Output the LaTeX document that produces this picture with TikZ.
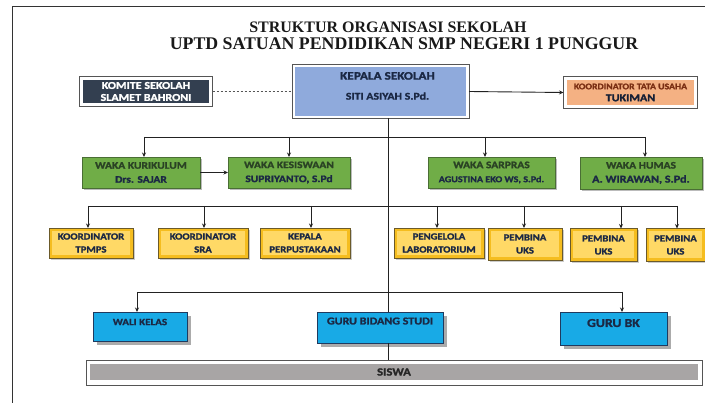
\documentclass[tikz,border=0pt]{standalone}
\usepackage{fontspec}
\setmainfont{Liberation Serif}
\newfontfamily\bx[FakeStretch=1.15,FakeBold=1.6]{Carlito Bold}
\usetikzlibrary{arrows.meta,shadows}
\definecolor{kepc}{HTML}{8FAADC}
\definecolor{komc}{HTML}{333F50}
\definecolor{tuc}{HTML}{F4B183}
\definecolor{grc}{HTML}{70AD47}
\definecolor{grdark}{HTML}{4A6E35}
\definecolor{yout}{HTML}{F5BD1F}
\definecolor{yin}{HTML}{FFD966}
\definecolor{ydark}{HTML}{6B5A2A}
\definecolor{bluec}{HTML}{18AAE6}
\definecolor{bluedark}{HTML}{1F3A5F}
\definecolor{siswac}{HTML}{A8A5A5}
\definecolor{shadc}{HTML}{ABABAB}
\definecolor{navy}{HTML}{1B2844}
\definecolor{grtext}{HTML}{2A4224}
\definecolor{brown}{HTML}{7A2E12}
\definecolor{linec}{HTML}{222222}
\definecolor{framec}{HTML}{555555}
\newcommand\fs[2]{\fontsize{#1}{#2}\selectfont}
\begin{document}
\begin{tikzpicture}[x=1pt,y=-1pt,
  conn/.style={draw=linec,line width=0.9pt},
  arr/.style={conn,-{Stealth[length=4.5pt,width=4pt]}},
  dashconn/.style={draw=framec,line width=0.8pt,dash pattern=on 2pt off 2pt},
  box/.style={inner sep=0pt,outer sep=0pt,align=center,text=navy},
  frame/.style={draw=framec,line width=0.8pt},
  title/.style={inner sep=0pt,text=black!90,font=\bfseries\fs{16}{18}},
  kepbox/.style={box,fill=kepc,font=\bx},
  kombox/.style={box,fill=komc,text=white,font=\bx\fs{10.5}{12}},
  tubox/.style={box,fill=tuc,font=\bx},
  grbox/.style={box,fill=grc,draw=grdark,line width=0.8pt,
    drop shadow={shadow xshift=2pt,shadow yshift=-2pt,fill=shadc,opacity=0.8},
    font=\bx\fs{10}{14}},
  ylbox/.style={box,fill=yout,draw=ydark,line width=0.7pt,
    drop shadow={shadow xshift=2pt,shadow yshift=-2pt,fill=shadc,opacity=0.6},
    path picture={\fill[yin] ([shift={(3pt,3pt)}]path picture bounding box.south west)
      rectangle ([shift={(-3pt,-3pt)}]path picture bounding box.north east);},
    font=\bx\fs{9.3}{13}},
  blbox/.style={box,fill=bluec,draw=bluedark,line width=0.8pt,
    drop shadow={shadow xshift=4pt,shadow yshift=-4pt,fill=shadc,opacity=1},
    font=\bx\fs{10.5}{12}},
  sisbox/.style={box,fill=siswac,text=black!85,font=\bx\fs{11}{12}}
]
\useasboundingbox (0,0) rectangle (705,403);
\fill[white] (0,0) rectangle (705,403);
% page frame
\draw[draw=black!80,line width=1pt] (12,403) -- (12,7) -- (705,7);

% titles
\node[title] (t1) at (388,27) {STRUKTUR ORGANISASI SEKOLAH};
\node[title,font=\bfseries\fs{17.8}{19}] (t2) at (404,44) {UPTD SATUAN PENDIDIKAN SMP NEGERI 1 PUNGGUR};

% top row
\node[kepbox,minimum width=171,minimum height=49] (kepala) at (380.5,91.5)
  {\raisebox{22pt}{\hspace*{14pt}\begin{tabular}{@{}c@{}}{\fs{11.5}{13}KEPALA SEKOLAH}\\[8pt]{\fs{10.3}{12}SITI ASIYAH S.Pd.}\end{tabular}}};
\draw[frame] ([shift={(-3pt,3pt)}]kepala.north west) rectangle ([shift={(3pt,-2.5pt)}]kepala.south east);

\node[kombox,minimum width=126,minimum height=23] (komite) at (146,91.5)
  {KOMITE SEKOLAH\\SLAMET BAHRONI};
\draw[frame] ([shift={(-3.5pt,3.5pt)}]komite.north west) rectangle ([shift={(3.5pt,-3.5pt)}]komite.south east);

\node[tubox,minimum width=127,minimum height=25] (tu) at (630.5,92.5)
  {{\fs{8.5}{13}\color{brown}KOORDINATOR TATA USAHA}\\{\fs{10.5}{12}\color{navy!80!black}TUKIMAN}};
\draw[frame] ([shift={(-3.5pt,3.5pt)}]tu.north west) rectangle ([shift={(3.5pt,-3.5pt)}]tu.south east);

% waka row
\node[grbox,minimum width=118,minimum height=31] (kur) at (141,172.5)
  {{\color{grtext}WAKA KURIKULUM}\\Drs. SAJAR};
\node[grbox,minimum width=122,minimum height=31] (kes) at (289,172.5)
  {{\color{grtext}WAKA KESISWAAN}\\SUPRIYANTO, S.Pd};
\node[grbox,minimum width=127,minimum height=31] (sar) at (491.5,172.5)
  {{\color{grtext}WAKA SARPRAS}\\{\fs{8.8}{14}AGUSTINA EKO WS, S.Pd.}};
\node[grbox,minimum width=122,minimum height=32] (hum) at (641,173)
  {{\color{grtext}WAKA HUMAS}\\{\fs{10.5}{14}A. WIRAWAN, S.Pd.}};

% coordinator row
\node[ylbox,minimum width=84,minimum height=30] (tpmps) at (91,243) {KOORDINATOR\\TPMPS};
\node[ylbox,minimum width=90,minimum height=30] (sra) at (203,243) {KOORDINATOR\\SRA};
\node[ylbox,minimum width=90,minimum height=30] (perpus) at (305,243) {KEPALA\\PERPUSTAKAAN};
\node[ylbox,minimum width=90,minimum height=30] (lab) at (439,243) {PENGELOLA\\LABORATORIUM};
\node[ylbox,minimum width=74,minimum height=32] (uksa) at (525,244) {PEMBINA\\UKS};
\node[ylbox,minimum width=67,minimum height=33] (uksb) at (603.5,245) {PEMBINA\\UKS};
\node[ylbox,minimum width=59,minimum height=33] (uksc) at (675.5,245) {PEMBINA\\UKS};

% guru row
\node[blbox,minimum width=94,minimum height=29,font=\bx\fs{9.6}{12}] (wali) at (140,326.5) {\raisebox{9pt}{WALI KELAS}};
\node[blbox,minimum width=126,minimum height=31] (gbs) at (380,327.5) {\raisebox{13pt}{GURU BIDANG STUDI}};
\node[blbox,minimum width=107,minimum height=33,font=\bx\fs{12}{13}] (gbk) at (613.5,328.5) {\raisebox{11pt}{GURU BK}};

% siswa
\node[sisbox,minimum width=608,minimum height=16] (siswa) at (394,372) {SISWA};
\draw[frame] ([shift={(-4pt,4pt)}]siswa.north west) rectangle ([shift={(4pt,-5pt)}]siswa.south east);

% helper coordinates
\coordinate (tr) at (388,0);
\coordinate (b1w) at (144,137);
\coordinate (b1e) at (645,137);
\coordinate (b2w) at (88,206);
\coordinate (b2e) at (677,206);
\coordinate (b3w) at (137,292);
\coordinate (b3e) at (622,292);

% connectors top
\draw[dashconn] ([xshift=3.5pt]komite.east) -- ([xshift=-3pt]kepala.west);
\draw[arr] ([xshift=3pt]kepala.east) -- ([xshift=-3.5pt]tu.west);

% trunk
\draw[conn] ([yshift=-2.5pt]kepala.south -| tr) -- (gbs.north -| tr);
\draw[conn] (gbs.south -| tr) -- ([yshift=4pt]siswa.north -| tr);

% bus 1
\draw[conn] (b1w) -- (b1e);
\draw[arr] (b1w) -- (b1w |- kur.north);
\draw[arr] (kes.north |- b1w) -- (kes.north);
\draw[arr] ([xshift=-6.5pt]sar.north |- b1w) -- ([xshift=-6.5pt]sar.north);
\draw[arr] (b1e) -- (b1e |- hum.north);
\draw[arr] (kur.east) -- (kes.west);

% bus 2
\draw[conn] (b2w) -- (b2e);
\draw[arr] (b2w) -- (b2w |- tpmps.north);
\draw[arr] ([xshift=1pt]sra.north |- b2w) -- ([xshift=1pt]sra.north);
\draw[arr] ([xshift=6pt]perpus.north |- b2w) -- ([xshift=6pt]perpus.north);
\draw[arr] ([xshift=-2pt]lab.north |- b2w) -- ([xshift=-2pt]lab.north);
\draw[arr] ([xshift=-1pt]uksa.north |- b2w) -- ([xshift=-1pt]uksa.north);
\draw[arr] ([xshift=17.5pt]uksb.north |- b2w) -- ([xshift=17.5pt]uksb.north);
\draw[arr] (b2e) -- (b2e |- uksc.north);

% bus 3
\draw[conn] (b3w) -- (b3e);
\draw[arr] (b3w) -- (b3w |- wali.north);
\draw[arr] (b3e) -- (b3e |- gbk.north);
\end{tikzpicture}
\end{document}
